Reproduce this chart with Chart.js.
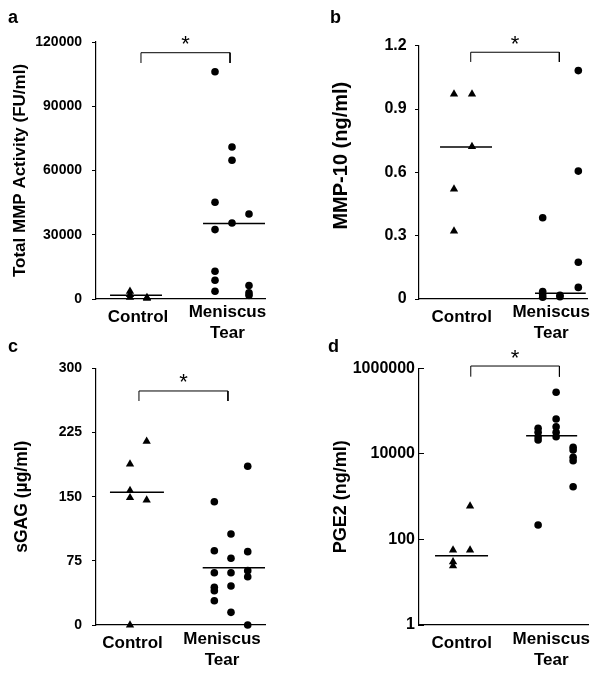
<!DOCTYPE html>
<html><head><meta charset="utf-8">
<script src="https://cdn.jsdelivr.net/npm/chart.js@4.4.1/dist/chart.umd.min.js"></script>
<style>
html,body{margin:0;padding:0;background:#fff;}
#wrap{position:relative;width:604px;height:674px;overflow:hidden;}
canvas{position:absolute;}
</style></head><body>
<div id="wrap">
<canvas id="ca" width="300" height="340" style="left:0;top:0"></canvas>
<canvas id="cb" width="304" height="340" style="left:300px;top:0"></canvas>
<canvas id="cc" width="300" height="344" style="left:0;top:330px"></canvas>
<canvas id="cd" width="304" height="344" style="left:300px;top:330px"></canvas>
</div>
<script>
const categories = ['Control', ['Meniscus', 'Tear']];

// Panel a: Total MMP Activity (FU/ml)
const mmpTicks = [0, 30000, 60000, 90000, 120000];
const mmpTickLabels = ['0', '30000', '60000', '90000', '120000'];
const mmpControlCols = [[3600, 2000, 800], [700, 300]];
const mmpControlColX = [0.91, 1.10];
const mmpTearCols = [[106100, 45200, 32400, 12950, 8740, 3600], [71000, 64800, 35500], [39700, 6300, 2900, 1700]];
const mmpTearColX = [1.861, 2.051, 2.241];
const mmpMedians = [1700, 35200];
const mmpMedianSpan = [[0.687, 1.268], [1.727, 2.42]];
const mmpBracketX = [1.033, 2.029];
const mmpBracketY = [115000, 110200];

// Panel b: MMP-10 (ng/ml)
const mmp10Ticks = [0, 0.3, 0.6, 0.9, 1.2];
const mmp10TickLabels = ['0', '0.3', '0.6', '0.9', '1.2'];
const mmp10ControlCols = [[0.971, 0.521, 0.322], [0.971, 0.722]];
const mmp10ControlColX = [0.914, 1.115];
const mmp10TearCols = [[0.385, 0.035, 0.02, 0.008], [0.018, 0.011], [1.082, 0.606, 0.174, 0.055]];
const mmp10TearColX = [1.905, 2.098, 2.303];
const mmp10Medians = [0.72, 0.027];
const mmp10MedianSpan = [[0.758, 1.339], [1.819, 2.386]];
const mmp10BracketX = [1.101, 2.091];
const mmp10BracketY = [1.169, 1.123];

// Panel c: sGAG (µg/ml)
const sgagTicks = [0, 75, 150, 225, 300];
const sgagTickLabels = ['0', '75', '150', '225', '300'];
const sgagControlCols = [[188, 157, 148.8, 0], [214.7, 146]];
const sgagControlColX = [0.972, 1.158];
const sgagTearCols = [[144.1, 86.8, 61.1, 44.1, 40.1, 28.4], [106.4, 78, 61.1, 45.6, 14.8], [185.5, 85.7, 63.5, 56.4, 0]];
const sgagTearColX = [1.914, 2.100, 2.287];
const sgagMedians = [155, 67];
const sgagMedianSpan = [[0.748, 1.351], [1.784, 2.48]];
const sgagBracketX = [1.072, 2.066];
const sgagBracketY = [273.5, 261.8];

// Panel d: PGE2 (ng/ml), log scale
const pgeTicks = [1, 100, 10000, 1000000];
const pgeTickLabels = ['1', '100', '10000', '1000000'];
const pgeControlCols = [[56.6, 30, 24], [605, 56.6]];
const pgeControlColX = [0.903, 1.093];
const pgeTearCols = [[39600, 31900, 25200, 21100, 217], [275000, 65300, 43200, 31900, 25200], [14200, 12300, 8320, 6920, 1710]];
const pgeTearColX = [1.853, 2.054, 2.244];
const pgeMedians = [41.7, 26600];
const pgeMedianSpan = [[0.702, 1.294], [1.719, 2.289]];
const pgeBracketX = [1.101, 2.091];
const pgeBracketY = [1130000, 637000];

Chart.defaults.font.family = '"Liberation Sans", Arial, sans-serif';
Chart.defaults.color = '#000';

function cols(values, xs) {
  return values.flatMap((col, i) => col.map(v => ({x: xs[i], y: v})));
}

const textPlugin = {
  id: 'panelTexts',
  afterDraw(chart, args, o) {
    const ctx = chart.ctx, xs = chart.scales.x, ys = chart.scales.y;
    ctx.save();
    ctx.fillStyle = '#000';
    ctx.textBaseline = 'alphabetic';
    ctx.textAlign = 'left';
    ctx.font = 'bold 18px "Liberation Sans", Arial, sans-serif';
    ctx.fillText(o.letter, o.letterX, o.letterY);
    const cx = (xs.getPixelForValue(o.bx[0]) + xs.getPixelForValue(o.bx[1])) / 2;
    const top = ys.getPixelForValue(o.by[0]);
    ctx.textAlign = 'center';
    ctx.font = '22px "Liberation Sans", Arial, sans-serif';
    ctx.fillText('*', cx, top - 1.5);
    ctx.restore();
  }
};

function makePanel(id, c) {
  const canvas = document.getElementById(id);
  const W = canvas.width, H = canvas.height;
  const datasets = [
    {data: cols(c.ctrlCols, c.ctrlColX), pointStyle: 'triangle', pointRadius: 4.8,
     backgroundColor: '#000', borderColor: '#000', borderWidth: 0, showLine: false, clip: false},
    {data: cols(c.tearCols, c.tearColX), pointStyle: 'circle', pointRadius: 3.8,
     backgroundColor: '#000', borderColor: '#000', borderWidth: 0, showLine: false, clip: false}
  ];
  c.medians.forEach((m, i) => {
    datasets.push({data: [{x: c.medSpan[i][0], y: m}, {x: c.medSpan[i][1], y: m}],
      showLine: true, borderColor: '#000', borderWidth: 1.5, pointRadius: 0, clip: false});
  });
  datasets.push({data: [{x: c.bx[0], y: c.by[1]}, {x: c.bx[0], y: c.by[0]}, {x: c.bx[1], y: c.by[0]}, {x: c.bx[1], y: c.by[1]}],
    showLine: true, borderColor: '#000', borderWidth: 1, pointRadius: 0, clip: false, tension: 0});
  return new Chart(canvas, {
    type: 'scatter',
    data: {datasets},
    options: {
      responsive: false, animation: false, events: [],
      layout: {padding: {left: 0, right: W - c.area.right, top: c.area.top, bottom: 0}},
      plugins: {legend: {display: false}, tooltip: {enabled: false},
        panelTexts: {letter: c.letter, letterX: c.letterX, letterY: c.letterY, bx: c.bx, by: c.by}},
      scales: {
        x: {
          type: 'linear', min: c.xMin, max: c.xMax,
          afterBuildTicks: s => { s.ticks = [{value: 1}, {value: 2}]; },
          afterFit: s => { s.height = H - c.area.bottom; },
          ticks: {callback: (v, i) => categories[i], color: '#000', padding: c.xPad, maxRotation: 0, autoSkip: false,
            font: ctx => ({size: 17, weight: 'bold', lineHeight: ctx.index === 0 ? c.ctrlLH : 1.25})},
          grid: {display: false, drawTicks: false, tickLength: 0},
          border: {display: true, color: '#000', width: 1.2}
        },
        y: {
          type: c.yType, min: c.yTicks[0], max: c.yTicks[c.yTicks.length - 1],
          afterBuildTicks: s => { s.ticks = c.yTicks.map(v => ({value: v})); },
          afterFit: s => { s.width = c.area.left; },
          ticks: {callback: (v, i) => c.yLabels[i], color: '#000', padding: c.tickPad, autoSkip: false,
            font: {size: c.tickSize, weight: 'bold'}},
          grid: {display: true, drawOnChartArea: false, drawTicks: true, tickLength: c.tickLen, color: '#000', lineWidth: 1},
          border: {display: true, color: '#000', width: 1.2},
          title: {display: true, text: c.title, color: '#000', font: {size: c.titleSize, weight: 'bold'},
            padding: {top: c.titlePad, bottom: 0}}
        }
      }
    },
    plugins: [textPlugin]
  });
}

makePanel('ca', {
  letter: 'a', letterX: 8, letterY: 22.7,
  title: 'Total MMP Activity (FU/ml)', titleSize: 17, titlePad: 10,
  tickSize: 14, tickLen: 4, tickPad: 10,
  area: {left: 96, right: 265, top: 42, bottom: 299},
  xMin: 0.53, xMax: 2.42, xPad: 2.4, ctrlLH: 1.82,
  yType: 'linear', yTicks: mmpTicks, yLabels: mmpTickLabels,
  ctrlCols: mmpControlCols, ctrlColX: mmpControlColX, tearCols: mmpTearCols, tearColX: mmpTearColX,
  medians: mmpMedians, medSpan: mmpMedianSpan, bx: mmpBracketX, by: mmpBracketY
});
makePanel('cb', {
  letter: 'b', letterX: 30, letterY: 22.7,
  title: '      MMP-10 (ng/ml)', titleSize: 20, titlePad: 29.7,
  tickSize: 16, tickLen: 4, tickPad: 8.3,
  area: {left: 119, right: 287, top: 45.7, bottom: 299},
  xMin: 0.523, xMax: 2.40, xPad: 2.4, ctrlLH: 1.82,
  yType: 'linear', yTicks: mmp10Ticks, yLabels: mmp10TickLabels,
  ctrlCols: mmp10ControlCols, ctrlColX: mmp10ControlColX, tearCols: mmp10TearCols, tearColX: mmp10TearColX,
  medians: mmp10Medians, medSpan: mmp10MedianSpan, bx: mmp10BracketX, by: mmp10BracketY
});
makePanel('cc', {
  letter: 'c', letterX: 8, letterY: 21.5,
  title: 'sGAG (µg/ml)', titleSize: 17.5, titlePad: 11.5,
  tickSize: 14, tickLen: 4, tickPad: 10,
  area: {left: 96, right: 265, top: 38.3, bottom: 295},
  xMin: 0.592, xMax: 2.48, xPad: 3.4, ctrlLH: 1.72,
  yType: 'linear', yTicks: sgagTicks, yLabels: sgagTickLabels,
  ctrlCols: sgagControlCols, ctrlColX: sgagControlColX, tearCols: sgagTearCols, tearColX: sgagTearColX,
  medians: sgagMedians, medSpan: sgagMedianSpan, bx: sgagBracketX, by: sgagBracketY
});
makePanel('cd', {
  letter: 'd', letterX: 28, letterY: 21.5,
  title: 'PGE2 (ng/ml)', titleSize: 18, titlePad: 30,
  tickSize: 16, tickLen: -5, tickPad: 9,
  area: {left: 119, right: 288, top: 38.3, bottom: 295},
  xMin: 0.523, xMax: 2.41, xPad: 3.4, ctrlLH: 1.72,
  yType: 'logarithmic', yTicks: pgeTicks, yLabels: pgeTickLabels,
  ctrlCols: pgeControlCols, ctrlColX: pgeControlColX, tearCols: pgeTearCols, tearColX: pgeTearColX,
  medians: pgeMedians, medSpan: pgeMedianSpan, bx: pgeBracketX, by: pgeBracketY
});
</script>
</body></html>
